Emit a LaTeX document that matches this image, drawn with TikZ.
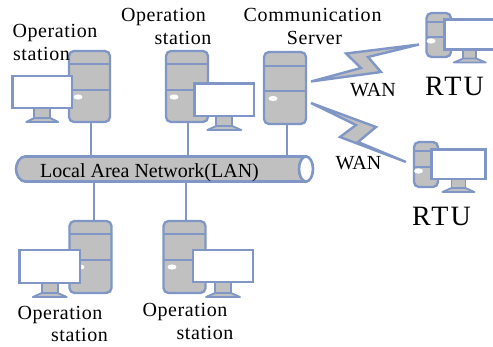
\documentclass[tikz,border=0pt]{standalone}
\usepackage{fontspec}
\setmainfont{Liberation Serif}
\usetikzlibrary{calc}
\definecolor{netblue}{HTML}{7F96C6}
\definecolor{netgray}{HTML}{C0C0C0}
\tikzset{
  towerbox/.style={draw=netblue,fill=netgray,line width=2.3pt,rounded corners=5pt,inner sep=0pt,outer sep=0pt},
  screenbox/.style={draw=netblue,fill=white,line width=2.2pt,inner sep=0pt,outer sep=0pt},
  netline/.style={draw=netblue,line width=2.7pt},
  bolt/.style={draw=netblue,fill=netgray,line width=2.4pt,line join=miter,miter limit=6},
  lbl/.style={anchor=base,inner sep=0pt,text=black,font=\fontsize{20}{24}\selectfont\addfontfeature{LetterSpace=3}},
  bigl/.style={anchor=base,inner sep=0pt,text=black,font=\fontsize{28}{32}\selectfont\addfontfeature{LetterSpace=8}},
  wanl/.style={anchor=base,inner sep=0pt,text=black,font=\fontsize{20}{24}\selectfont},
}
% name x1 y1 x2 y2 div1 div2 ovalx ovaly
\newcommand{\mytower}[9]{%
  \node[towerbox,minimum width={(#4-#2)*1pt},minimum height={(#5-#3)*1pt}] (#1) at ({(#2+#4)/2},{(#3+#5)/2}) {};
  \draw[netblue,line width=2pt] (#2,#6) -- (#4,#6) (#2,#7) -- (#4,#7);
  \fill[white] (#8,#9) ellipse (4.5pt and 2.6pt);
}
% name x1 y1 x2 y2 base-half stand-half standheight
\newcommand{\mymonitor}[8]{%
  \fill[netgray,draw=netblue,line width=1.8pt] ({(#2+#4)/2-#7},#5) rectangle ({(#2+#4)/2+#7},{#5+#8});
  \fill[netgray,draw=netblue,line width=1.8pt,line join=round] ({(#2+#4)/2-#6},{#5+#8+4}) -- ({(#2+#4)/2-#7},{#5+#8}) -- ({(#2+#4)/2+#7},{#5+#8}) -- ({(#2+#4)/2+#6},{#5+#8+4}) -- cycle;
  \node[screenbox,minimum width={(#4-#2)*1pt},minimum height={(#5-#3)*1pt}] (#1) at ({(#2+#4)/2},{(#3+#5)/2}) {};
}
\begin{document}
\begin{tikzpicture}[x=1pt,y=-1pt]
\useasboundingbox (0,0) rectangle (493,346);
% LAN cylinder
\path[fill=netgray,draw=netblue,line width=2.6pt] (25,156.5) -- (306,156.5) -- (306,181.5) -- (25,181.5) .. controls (20,181.5) and (16,175) .. (16,169) .. controls (16,163) and (20,156.5) .. (25,156.5) -- cycle;
\draw[fill=white,draw=netblue,line width=2.6pt] (306,169) ellipse (7pt and 12.5pt);
\node[inner sep=0pt,anchor=base,font=\fontsize{20}{24}\selectfont] (lan) at (149.5,177) {Local Area Network(LAN)};
\coordinate (lantop) at (160,156.5);
\coordinate (lanbot) at (160,181.5);
% towers
\mytower{t1}{69}{51}{110}{122}{64}{90}{78}{97}
\mytower{t2}{166}{51}{208}{122}{64}{90}{174}{97}
\mytower{t3}{264}{52}{306}{124}{66}{91}{273}{98.5}
\mytower{t4}{69.5}{221}{111.5}{293}{234}{260}{80}{267}
\mytower{t5}{163.5}{221}{205.5}{293}{234}{260}{172}{267}
\mytower{r1}{426.5}{13}{451}{57}{21.5}{37}{431}{41}
\mytower{r2}{414}{142}{438}{187}{151}{167}{418.5}{171}
% connectors
\draw[netline] (91,0 |- t1.south) -- (91,0 |- lantop);
\draw[netline] (188,0 |- t2.south) -- (188,0 |- lantop);
\draw[netline] (287,0 |- t3.south) -- (287,0 |- lantop);
\draw[netline] (94,0 |- lanbot) -- (94,0 |- t4.north);
\draw[netline] (186,0 |- lanbot) -- (186,0 |- t5.north);
% monitors
\mymonitor{m1}{12.5}{76}{72}{108}{16}{8}{10}
\mymonitor{m2}{194.5}{83.5}{254}{116}{17}{8}{10}
\mymonitor{m4}{19.5}{250}{80}{283}{17}{8}{10}
\mymonitor{m5}{193}{250}{253}{282}{17}{8}{11}
\mymonitor{m6}{444.5}{19.5}{495}{49.5}{16}{6.5}{9}
\mymonitor{m7}{431.5}{149.5}{485.5}{179}{16}{7}{9}
% lightning
\path[bolt] (311,81.5) -- (381,72) -- (368,57) -- (419,44.5) -- (346,53.5) -- (361,68) -- cycle;
\path[bolt] (311,103) -- (376,127) -- (358,142) -- (406,162) -- (340,137) -- (356,125) -- cycle;
% labels
\node[lbl] (a1) at (55,37) {Operation};
\node[lbl] (a2) at (41.5,60) {station};
\node[lbl] (b1) at (163.5,21) {Operation};
\node[lbl] (b2) at (183,44) {station};
\node[lbl,font=\fontsize{20}{24}\selectfont\addfontfeature{LetterSpace=3.8}] (c1) at (312.5,21) {Communication};
\node[lbl] (c2) at (314.5,44) {Server};
\node[wanl] (w1) at (373,96) {WAN};
\node[wanl] (w2) at (358.5,169) {WAN};
\node[bigl] (rt1) at (454.5,95) {RTU};
\node[bigl] (rt2) at (441.5,225) {RTU};
\node[lbl] (d1) at (60,319) {Operation};
\node[lbl] (d2) at (79.5,341) {station};
\node[lbl] (e1) at (185,316) {Operation};
\node[lbl] (e2) at (205,339) {station};
\end{tikzpicture}
\end{document}
